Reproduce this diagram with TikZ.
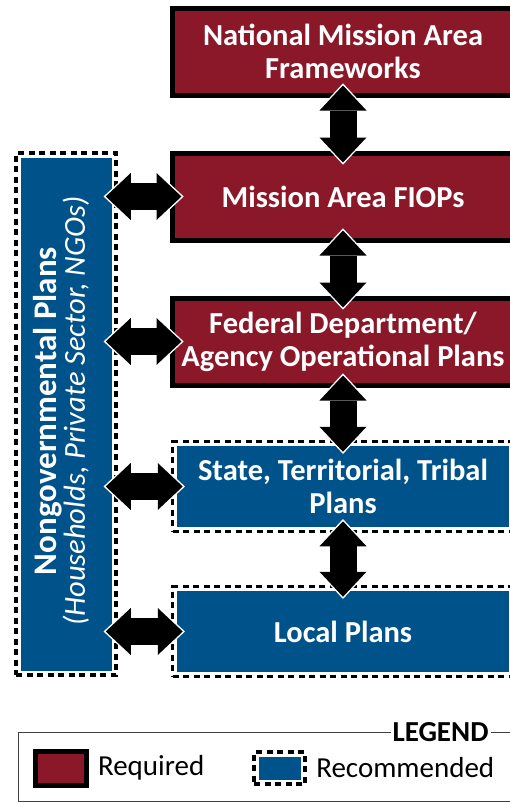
\documentclass[tikz,border=0pt]{standalone}
\usepackage{fontspec}
\setmainfont{Carlito}
\usetikzlibrary{positioning,arrows.meta}
\definecolor{reqred}{RGB}{138,24,41}
\definecolor{recblue}{RGB}{0,83,138}
\tikzstyle{req} = [rectangle, draw=black, line width=5pt, fill=reqred, text=white,
font=\fontsize{30.5}{33}\selectfont\bfseries, align=center, minimum width=342pt, minimum height=87pt]
\tikzstyle{rec} = [rectangle, draw=black, line width=3.5pt, dash pattern=on 6pt off 4.5pt, fill=white, text=white,
font=\fontsize{30.5}{33}\selectfont\bfseries, align=center, minimum width=341pt, minimum height=90pt,
path picture={\fill[recblue] ([shift={(4.5pt,-4.5pt)}]path picture bounding box.north west) rectangle ([shift={(-4.5pt,4.5pt)}]path picture bounding box.south east);}]
\tikzstyle{linkbg} = [white, line width=31pt, {Triangle[width=53pt,length=28.5pt,line width=0pt]}-{Triangle[width=53pt,length=28.5pt,line width=0pt]},
shorten <=-14.2pt, shorten >=-14.2pt]
\tikzstyle{link} = [black, line width=27pt, {Triangle[width=47pt,length=25pt,line width=0pt]}-{Triangle[width=47pt,length=25pt,line width=0pt]},
shorten <=-12pt, shorten >=-12pt]
\tikzstyle{keytext} = [font=\fontsize{29}{34}\selectfont, text=black]

\begin{document}
\begin{tikzpicture}[x=1pt, y=1pt, node distance=145pt]
				\useasboundingbox (0,0) rectangle (509,-803);
				% Place nodes
				\node (framework) [req] at (343,-51.5) {National Mission Area\\Frameworks};
				\node (fiop) [req, below of=framework] {Mission Area FIOPs};
				\node (agency) [req, below of=fiop] {Federal Department/\\Agency Operational Plans};
				\node (state) [rec, below of=agency] {State, Territorial, Tribal\\Plans};
				\node (local) [rec, below of=state] {Local Plans};
				\node (ngo) [rec, minimum width=100pt, minimum height=522pt] at (66,-414) {};
				\node (ngotext) [rotate=90, align=center, text=white] at (61,-411)
					{\fontsize{33}{35}\selectfont\textbf{Nongovernmental Plans}\\\fontsize{30.5}{35}\selectfont\textit{(Households, Private Sector, NGOs)}};
				
				% Draw arrows
				\draw[linkbg] (framework) -- (fiop); \draw[link] (framework) -- (fiop);
				\draw[linkbg] (fiop) -- (agency); \draw[link] (fiop) -- (agency);
				\draw[linkbg] (agency) -- (state); \draw[link] (agency) -- (state);
				\draw[linkbg] (state) -- (local); \draw[link] (state) -- (local);
				\draw[linkbg] (ngo.east |- fiop.west) -- (fiop.west); \draw[link] (ngo.east |- fiop.west) -- (fiop.west);
				\draw[linkbg] (ngo.east |- agency.west) -- (agency.west); \draw[link] (ngo.east |- agency.west) -- (agency.west);
				\draw[linkbg] (ngo.east |- state.west) -- (state.west); \draw[link] (ngo.east |- state.west) -- (state.west);
				\draw[linkbg] (ngo.east |- local.west) -- (local.west); \draw[link] (ngo.east |- local.west) -- (local.west);
				
				% Legend
				\draw[line width=0.8pt, black!75] (18,-732) rectangle (540,-801);
				\node (legend) [fill=white, inner sep=2pt, font=\fontsize{29}{30}\selectfont\bfseries] at (440.5,-732) {LEGEND};
				\node (reqkey) [req, minimum width=51pt, minimum height=34pt] at (60.5,-768) {};
				\node (reqlabel) [keytext, right=6pt of reqkey] {Required};
				\node (reckey) [rec, minimum width=51pt, minimum height=32pt] at (279.5,-768) {};
				\node (reclabel) [keytext, right=6pt of reckey] {Recommended};
			\end{tikzpicture}
\end{document}
